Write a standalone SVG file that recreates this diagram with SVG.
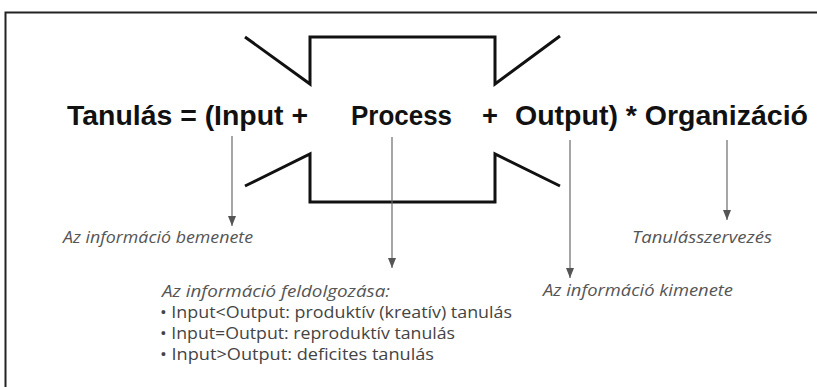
<svg xmlns="http://www.w3.org/2000/svg" width="817" height="387" viewBox="0 0 817 387">
<style>
.main{font-family:"Liberation Sans","DejaVu Sans",sans-serif;font-weight:bold;font-size:27px;fill:#111}
.lbl{font-family:"Open Sans","Noto Sans","DejaVu Sans",sans-serif;font-style:italic;font-size:17px;fill:#555}
.bul{font-family:"Open Sans","Noto Sans","DejaVu Sans",sans-serif;font-size:16px;fill:#444}
.shape{fill:none;stroke:#111;stroke-width:3;stroke-linejoin:miter}
.conn{fill:none;stroke:#6a6a6a;stroke-width:1.2}
</style>
<defs>
<marker id="ah" markerWidth="10" markerHeight="8" refX="10" refY="4" orient="auto" markerUnits="userSpaceOnUse" viewBox="0 0 10 8">
<path d="M0,0 L10,4 L0,8 Z" fill="#555"/>
</marker>
</defs>
<rect width="817" height="387" fill="#fff"/>
<path d="M5.5,387 V12.5 H817" fill="none" stroke="#222" stroke-width="2"/>
<g id="process-shape">
<path class="shape" d="M245,37 L310,84 V37 H495 V84 L560,36"/>
<path class="shape" d="M245,186 L310,154 V202 H495 V154 L560,186"/>
</g>
<g id="formula">
<text class="main" x="67" y="124.5" textLength="241" lengthAdjust="spacingAndGlyphs">Tanulás = (Input +</text>
<text class="main" x="351" y="124.5" textLength="101" lengthAdjust="spacingAndGlyphs">Process</text>
<text class="main" x="482" y="124.5" textLength="16" lengthAdjust="spacingAndGlyphs">+</text>
<text class="main" x="515" y="124.5" textLength="293" lengthAdjust="spacingAndGlyphs">Output) * Organizáció</text>
</g>
<g id="connectors">
<line class="conn" x1="232" y1="136" x2="232" y2="226" marker-end="url(#ah)"/>
<line class="conn" x1="392" y1="137" x2="392" y2="268" marker-end="url(#ah)"/>
<line class="conn" x1="570" y1="140" x2="570" y2="278" marker-end="url(#ah)"/>
<line class="conn" x1="727" y1="140" x2="727" y2="220" marker-end="url(#ah)"/>
</g>
<g id="input-label">
<text class="lbl" x="63" y="243" textLength="190" lengthAdjust="spacingAndGlyphs">Az információ bemenete</text>
</g>
<g id="organizacio-label">
<text class="lbl" x="632" y="243" textLength="140" lengthAdjust="spacingAndGlyphs">Tanulásszervezés</text>
</g>
<g id="output-label">
<text class="lbl" x="543" y="296" textLength="190" lengthAdjust="spacingAndGlyphs">Az információ kimenete</text>
</g>
<g id="process-label">
<text class="lbl" x="162" y="297" textLength="228" lengthAdjust="spacingAndGlyphs">Az információ feldolgozása:</text>
<text class="bul" x="160" y="318" textLength="352" lengthAdjust="spacingAndGlyphs">• Input&lt;Output: produktív (kreatív) tanulás</text>
<text class="bul" x="160" y="339" textLength="295" lengthAdjust="spacingAndGlyphs">• Input=Output: reproduktív tanulás</text>
<text class="bul" x="160" y="360" textLength="274" lengthAdjust="spacingAndGlyphs">• Input&gt;Output: deficites tanulás</text>
</g>
</svg>
